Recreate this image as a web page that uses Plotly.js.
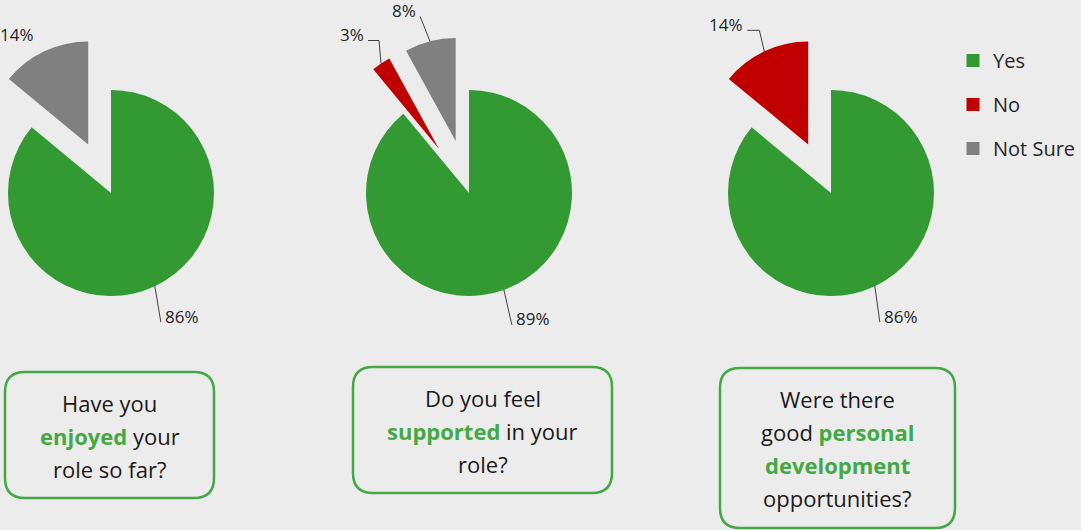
<!DOCTYPE html>
<html><head><meta charset="utf-8">
<script src="https://cdn.plot.ly/plotly-3.0.1.min.js"></script>
<style>
html,body{margin:0;padding:0;background:#ececec;overflow:hidden;}
#wrap{position:relative;width:1081px;height:530px;overflow:hidden;background:#ececec;}
#chart{position:absolute;left:-50px;top:0;width:1131px;height:530px;}
</style></head><body>
<div id="wrap"><div id="chart"></div></div>
<script>
// ---------- data ----------
const categories = ['Yes', 'No', 'Not Sure'];
const enjoyedValues = [86, 0, 14];
const supportedValues = [89, 3, 8];
const developmentValues = [86, 14, 0];
const questionLines = [
  ['Have you', 'enjoyed your', 'role so far?'],
  ['Do you feel', 'supported in your', 'role?'],
  ['Were there', 'good personal', 'development', 'opportunities?']
];
const highlightWords = [['enjoyed'], ['supported'], ['personal', 'development']];

// ---------- styles / layout constants ----------
const BG = '#ececec';
const sliceColors = ['#339933', '#c00000', '#808080'];
const accent = '#45a845';
const FONT = 'Open Sans, Noto Sans, sans-serif';
const SHIFT = 50, W = 1131, H = 530;      // canvas shifted left so pie 1 fits
const pieCenters = [[111, 193], [469, 193], [831, 193]];
const radius = 103;
const pulls = [[0, 0, 0.52], [0, 0.52, 0.52], [0, 0.52, 0]];
// label offsets from the slice rim (px) : [dx, dy, elbow, showLine]
const labelStyle = [
  [[6, 36, 0, true], null, [-6, -11, 0, false]],
  [[8, 35, 0, true], [-2, -23, 11, true], [-10, -25, 0, true]],
  [[5, 36, 0, true], [-5, -21, 12, true], null]
];
const boxes = [[5, 372, 214, 498], [353, 367, 612, 493], [720, 368, 955, 528]];
const lineGap = 33, firstLine = 31;

const px = x => (x + SHIFT) / W;
const py = y => 1 - y / H;

const allValues = [enjoyedValues, supportedValues, developmentValues];
const traces = [], shapes = [], annotations = [];

allValues.forEach((vals, i) => {
  const [cx, cy] = pieCenters[i];
  const maxPull = Math.max(...pulls[i]);
  const half = radius * (1 + maxPull);
  traces.push({
    type: 'pie', labels: categories, values: vals, sort: false,
    direction: 'clockwise', rotation: 0, pull: pulls[i],
    marker: {colors: sliceColors, line: {width: 0}},
    textinfo: 'none', hoverinfo: 'label+percent', showlegend: false,
    domain: {x: [px(cx - half), px(cx + half)], y: [py(cy + half), py(cy - half)]}
  });
  const total = vals.reduce((a, b) => a + b, 0);
  let cum = 0;
  vals.forEach((v, k) => {
    const start = cum; cum += v;
    if (v <= 0 || !labelStyle[i][k]) return;
    const mid = (start + v / 2) / total * 2 * Math.PI;
    const dx = Math.sin(mid), dy = -Math.cos(mid);
    const rr = radius * (1 + pulls[i][k]);
    const rim = [cx + dx * rr, cy + dy * rr];
    const [ox, oy, elbow, showLine] = labelStyle[i][k];
    const end = [rim[0] + ox, rim[1] + oy];
    const side = ox < 0 ? -1 : 1;
    const tip = [end[0] + side * elbow, end[1]];
    if (showLine) {
      let p = `M ${px(rim[0])} ${py(rim[1])} L ${px(end[0])} ${py(end[1])}`;
      if (elbow) p += ` L ${px(tip[0])} ${py(tip[1])}`;
      shapes.push({type: 'path', xref: 'paper', yref: 'paper', path: p,
        line: {color: '#404040', width: 1}, layer: 'above'});
    }
    annotations.push({
      xref: 'paper', yref: 'paper', showarrow: false,
      x: px(tip[0] + side * 2), y: py(tip[1] - 6),
      xanchor: side < 0 ? 'right' : 'left', yanchor: 'middle',
      text: Math.round(v / total * 100) + '%',
      font: {family: FONT, size: 17, color: '#1f1f1f'}
    });
  });
});

// legend via legend-only marker traces
categories.forEach((c, k) => {
  traces.push({type: 'scatter', mode: 'markers', x: [null], y: [null], name: c,
    legendgroup: c, marker: {symbol: 'square', size: 13, color: sliceColors[k]},
    hoverinfo: 'skip'});
});

// question boxes
boxes.forEach((b, i) => {
  const [x0, y0, x1, y1] = b;
  const rx = 20;
  const p = `M ${px(x0 + rx)} ${py(y0)} L ${px(x1 - rx)} ${py(y0)} Q ${px(x1)} ${py(y0)} ${px(x1)} ${py(y0 + rx)} ` +
    `L ${px(x1)} ${py(y1 - rx)} Q ${px(x1)} ${py(y1)} ${px(x1 - rx)} ${py(y1)} ` +
    `L ${px(x0 + rx)} ${py(y1)} Q ${px(x0)} ${py(y1)} ${px(x0)} ${py(y1 - rx)} ` +
    `L ${px(x0)} ${py(y0 + rx)} Q ${px(x0)} ${py(y0)} ${px(x0 + rx)} ${py(y0)} Z`;
  shapes.push({type: 'path', xref: 'paper', yref: 'paper', path: p,
    line: {color: accent, width: 2.5}, fillcolor: 'rgba(0,0,0,0)', layer: 'below'});
  const cxb = (x0 + x1) / 2;
  questionLines[i].forEach((line, j) => {
    const html = line.split(' ').map(w => highlightWords[i].includes(w)
      ? `<b><span style="color:${accent}">${w}</span></b>` : w).join(' ');
    annotations.push({
      xref: 'paper', yref: 'paper', showarrow: false,
      x: px(cxb), y: py(y0 + firstLine + j * lineGap), xanchor: 'center', yanchor: 'middle',
      text: html, font: {family: FONT, size: 22, color: '#1a1a1a'}
    });
  });
});

const layout = {
  width: W, height: H, margin: {l: 0, r: 0, t: 0, b: 0},
  paper_bgcolor: BG, plot_bgcolor: BG,
  xaxis: {visible: false}, yaxis: {visible: false},
  showlegend: true,
  legend: {x: px(953), y: py(41), xanchor: 'left', yanchor: 'top',
    font: {family: FONT, size: 20, color: '#262626'},
    tracegroupgap: 15, bgcolor: 'rgba(0,0,0,0)', traceorder: 'grouped'},
  shapes: shapes, annotations: annotations
};

Plotly.newPlot('chart', traces, layout, {displayModeBar: false, staticPlot: true});
</script>
</body></html>
